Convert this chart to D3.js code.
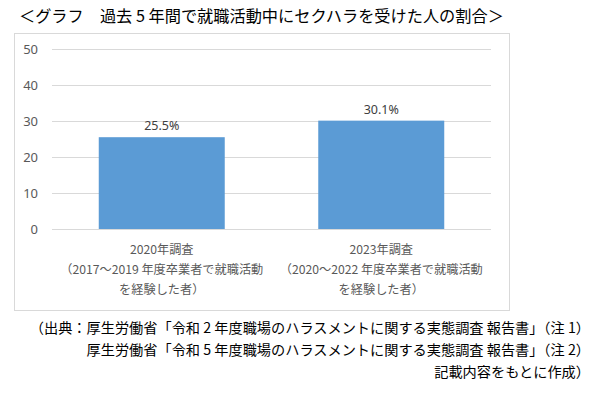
<!DOCTYPE html>
<html>
<head>
    <meta charset="utf-8">
    <style>
        body {
            margin: 0;
            background: #fff;
            font-family: "Noto Sans CJK JP", "Noto Sans", sans-serif;
        }
        svg {
            display: block;
        }
        .grid line {
            stroke: #d9d9d9;
        }
        .y .tick text {
            font-size: 13px;
            fill: #595959;
            font-family: "Noto Sans", "Noto Sans CJK JP", sans-serif;
        }
        .cat-label {
            font-size: 12.2px;
            fill: #595959;
        }
        .value-label {
            font-size: 12.5px;
            fill: #404040;
            font-family: "Noto Sans", "Noto Sans CJK JP", sans-serif;
        }
        .title {
            font-size: 16.2px;
            fill: #000;
        }
        .source {
            font-size: 14.2px;
            fill: #000;
        }
    </style>
</head>
<body>
<svg width="597" height="395"></svg>

<script src="https://d3js.org/d3.v7.min.js"></script>
<script>
    // data
    let categories = ["2020年調査", "2023年調査"]
    let subLabels = [
        ["（2017〜2019 年度卒業者で就職活動", "を経験した者）"],
        ["（2020〜2022 年度卒業者で就職活動", "を経験した者）"]
    ]
    let values = [25.5, 30.1]
    let yTicks = [0, 10, 20, 30, 40, 50]

    let titleText = "＜グラフ　過去 5 年間で就職活動中にセクハラを受けた人の割合＞"
    let sourceLines = [
        "（出典：厚生労働省「令和 2 年度職場のハラスメントに関する実態調査 報告書」（注 1）",
        "厚生労働省「令和 5 年度職場のハラスメントに関する実態調査 報告書」（注 2）",
        "記載内容をもとに作成）"
    ]

    let svg = d3.select("svg")

    let margin = { top: 49, right: 106, bottom: 166, left: 52 }
    let width = 597
    let height = 395

    // outer chart box
    svg.append("rect")
        .attr("x", 14.5)
        .attr("y", 33.5)
        .attr("width", 495)
        .attr("height", 277)
        .attr("fill", "#fff")
        .attr("stroke", "#d9d9d9")

    let x = d3.scaleBand()
        .domain(categories)
        .range([margin.left, width - margin.right])
        .paddingInner(0.426)
        .paddingOuter(0.213)

    let y = d3.scaleLinear()
        .domain([0, 50])
        .range([height - margin.bottom, margin.top])

    // gridlines
    svg.append("g")
        .attr("class", "grid")
        .selectAll("line")
        .data(yTicks)
        .join("line")
        .attr("x1", margin.left)
        .attr("x2", width - margin.right)
        .attr("y1", d => Math.round(y(d)) + 0.5)
        .attr("y2", d => Math.round(y(d)) + 0.5)

    let yAxis = svg.append("g")
        .attr("class", "y axis")
        .attr("transform", `translate(${margin.left - 8},0)`)
        .call(d3.axisLeft(y).tickValues(yTicks).tickSize(0).tickPadding(6))
        .call(g => g.select(".domain").remove())

    // bars
    svg.append("g")
        .selectAll("rect")
        .data(values)
        .join("rect")
        .attr("x", (d, i) => x(categories[i]))
        .attr("width", x.bandwidth())
        .attr("y", d => y(d))
        .attr("height", d => y(0) - y(d))
        .attr("fill", "#5b9bd5")

    // value labels
    svg.append("g")
        .selectAll("text")
        .data(values)
        .join("text")
        .attr("class", "value-label")
        .attr("x", (d, i) => x(categories[i]) + x.bandwidth() / 2)
        .attr("y", d => y(d) - 7)
        .attr("text-anchor", "middle")
        .text(d => d.toFixed(1) + "%")

    // category labels (3 lines each)
    let catG = svg.append("g")
        .selectAll("text")
        .data(categories)
        .join("text")
        .attr("class", "cat-label")
        .attr("text-anchor", "middle")
        .attr("x", d => x(d) + x.bandwidth() / 2)
        .attr("y", 254)

    catG.each(function (d, i) {
        let lines = [d].concat(subLabels[i])
        d3.select(this).selectAll("tspan")
            .data(lines)
            .join("tspan")
            .attr("x", x(d) + x.bandwidth() / 2)
            .attr("dy", (l, j) => j == 0 ? 0 : 20)
            .text(l => l)
    })

    // title
    svg.append("text")
        .attr("class", "title")
        .attr("x", 19)
        .attr("y", 22)
        .text(titleText)

    // source notes, right aligned
    svg.append("g")
        .selectAll("text")
        .data(sourceLines)
        .join("text")
        .attr("class", "source")
        .attr("text-anchor", "end")
        .attr("x", 590)
        .attr("y", (d, i) => 333 + i * 22)
        .text(d => d)
</script>
</body>
</html>
